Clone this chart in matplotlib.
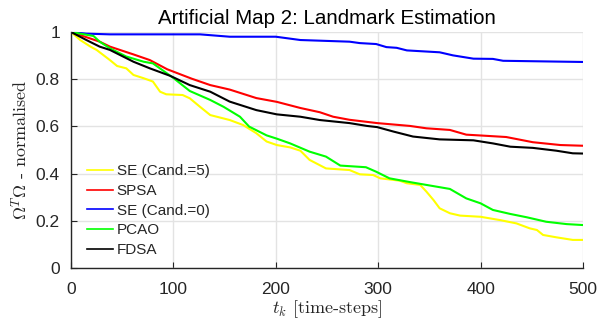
import matplotlib
matplotlib.use("Agg")
import matplotlib.pyplot as plt

plt.rcParams['mathtext.fontset'] = 'cm'

title = "Artificial Map 2: Landmark Estimation"
xlabel = r"$t_k$ [time-steps]"
ylabel = r"$\Omega^T\Omega$ - normalised"

x_ticks = [0, 100, 200, 300, 400, 500]
y_ticks = [0, 0.2, 0.4, 0.6, 0.8, 1.0]
y_ticklabels = ["0", "0.2", "0.4", "0.6", "0.8", "1"]

se5_t = [0, 9, 19, 25, 38, 45, 54, 61, 71, 80, 87, 93, 109, 116, 126, 136, 155, 168, 181, 191, 201, 214, 224,
         233, 249, 272, 282, 295, 302, 321, 328, 341, 347, 354, 360, 370, 380, 400, 419, 435, 448, 455, 461, 474, 490, 500]
se5_v = [1.0, 0.966, 0.938, 0.924, 0.881, 0.856, 0.846, 0.818, 0.804, 0.79, 0.747, 0.736, 0.733, 0.719, 0.683, 0.648,
         0.627, 0.606, 0.571, 0.536, 0.521, 0.511, 0.497,
         0.458, 0.422, 0.415, 0.397, 0.394, 0.38, 0.37, 0.359, 0.352, 0.324, 0.288, 0.253, 0.232, 0.222, 0.217,
         0.203, 0.189, 0.168, 0.161, 0.14, 0.13, 0.119, 0.119]

spsa_t = [0, 28, 38, 61, 77, 94, 118, 136, 155, 181, 201, 224, 243, 256, 272, 299, 331, 347, 370, 386, 402, 425, 451, 478, 500]
spsa_v = [1.0, 0.959, 0.938, 0.905, 0.881, 0.842, 0.802, 0.775, 0.756, 0.72, 0.704, 0.678, 0.66, 0.641, 0.628, 0.614,
          0.602, 0.592, 0.585, 0.565, 0.561, 0.555, 0.533, 0.521, 0.518]

se0_t = [0, 15, 38, 126, 155, 200, 224, 272, 282, 298, 308, 318, 328, 360, 373, 393, 412, 422, 500]
se0_v = [1.0, 0.993, 0.99, 0.99, 0.98, 0.98, 0.966, 0.959, 0.953, 0.949, 0.936, 0.933, 0.922, 0.914, 0.901, 0.887,
         0.886, 0.878, 0.873]

pcao_t = [0, 22, 28, 38, 54, 71, 80, 92, 100, 116, 136, 149, 165, 174, 191, 201, 214, 233, 249, 263, 288, 298, 311,
          331, 370, 386, 400, 412, 429, 445, 464, 484, 500]
pcao_v = [1.0, 0.983, 0.959, 0.931, 0.896, 0.874, 0.867, 0.83, 0.805, 0.75, 0.712, 0.683, 0.641, 0.599, 0.562, 0.548,
          0.528, 0.493, 0.472, 0.434, 0.427, 0.408, 0.38, 0.364, 0.335, 0.295, 0.274, 0.246, 0.229, 0.215, 0.196,
          0.186, 0.182]

fdsa_t = [0, 15, 28, 38, 61, 77, 97, 116, 136, 155, 181, 201, 224, 243, 272, 289, 299, 315, 334, 360, 393, 412, 429,
          451, 474, 490, 500]
fdsa_v = [1.0, 0.966, 0.938, 0.924, 0.874, 0.846, 0.814, 0.775, 0.747, 0.705, 0.669, 0.651, 0.641, 0.627, 0.614,
          0.602, 0.597, 0.578, 0.557, 0.545, 0.541, 0.528, 0.514, 0.509, 0.497, 0.486, 0.485]

series = [
    ("SE (Cand.=5)", se5_t, se5_v, "#ffff00"),
    ("SPSA", spsa_t, spsa_v, "#ff0000"),
    ("SE (Cand.=0)", se0_t, se0_v, "#0000ff"),
    ("PCAO", pcao_t, pcao_v, "#00ff00"),
    ("FDSA", fdsa_t, fdsa_v, "#000000"),
]

txt = "#262626"
fig = plt.figure(figsize=(5.99, 3.25), dpi=100)
ax = fig.add_axes([71 / 599, 57 / 325, 512 / 599, 236 / 325])

for label, t, v, c in series:
    ax.plot(t, v, color=c, lw=1.5, label=label)

ax.set_xlim(0, 500)
ax.set_ylim(0, 1)
ax.set_xticks(x_ticks)
ax.set_yticks(y_ticks)
ax.set_yticklabels(y_ticklabels)
ax.grid(True, color="#e3e3e3", lw=1.0)
ax.set_axisbelow(True)
for s in ("top", "right"):
    ax.spines[s].set_visible(False)
for s in ("left", "bottom"):
    ax.spines[s].set_color(txt)
    ax.spines[s].set_linewidth(1.0)
ax.tick_params(direction="in", length=4, color=txt, labelcolor=txt, labelsize=12.5)
ax.tick_params(axis="x", pad=10)
ax.tick_params(axis="y", pad=8)
for lab in ax.get_xticklabels() + ax.get_yticklabels():
    lab.set_fontfamily("Liberation Sans")

ax.set_title(title, fontsize=14.8, color="#000000", family="Liberation Sans", pad=6)
ax.set_xlabel(xlabel, fontsize=13, color=txt, family="cmr10", labelpad=1)
ax.set_ylabel(ylabel, fontsize=13, color=txt, family="cmr10", labelpad=4)

leg = ax.legend(loc="lower left", bbox_to_anchor=(0.01, 0.0), frameon=False,
                prop={"family": "Liberation Sans", "size": 11}, handlelength=1.7,
                handletextpad=0.25, labelspacing=0.38, borderaxespad=0.3)
for t in leg.get_texts():
    t.set_color(txt)
for h in leg.get_lines():
    h.set_linewidth(1.2)

fig.savefig("out.png", dpi=100)
